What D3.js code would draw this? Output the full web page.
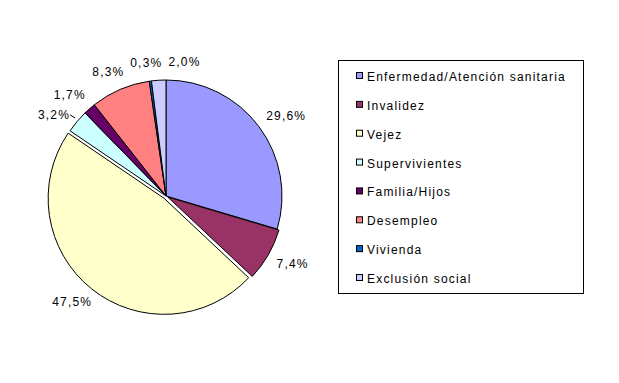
<!DOCTYPE html>
<html>
<head>
<meta charset="utf-8">
<script src="https://cdn.jsdelivr.net/npm/d3@7"></script>
<style>
    body { margin: 0; background: #fff; }
    text { font-family: "Liberation Sans", Arial, sans-serif; font-size: 12px; letter-spacing: 1.2px; fill: #000; }
</style>
</head>
<body>
<div id="chart"></div>
<script>
const categories = [
    'Enfermedad/Atención sanitaria',
    'Invalidez',
    'Vejez',
    'Supervivientes',
    'Familia/Hijos',
    'Desempleo',
    'Vivienda',
    'Exclusión social'
]
const shares = [29.6, 7.4, 47.5, 3.2, 1.7, 8.3, 0.3, 2.0]
const shareLabels = ['29,6%', '7,4%', '47,5%', '3,2%', '1,7%', '8,3%', '0,3%', '2,0%']
const colors = ['#9999FF', '#993366', '#FFFFCC', '#CCFFFF', '#660066', '#FF8080', '#0066CC', '#CCCCFF']

// slices pulled out a little from the centre (px)
const EXPLODE = { 'Invalidez': 2, 'Vejez': 3 }

const WIDTH = 619
const HEIGHT = 383
const CX = 166
const CY = 196
const RADIUS = 116
const LABEL_GAP = 14
const LABEL_H = 10

const data = categories.map((name, i) => ({
    name, value: shares[i], label: shareLabels[i], color: colors[i]
}))

const svg = d3.select('#chart')
    .append('svg')
    .attr('width', WIDTH)
    .attr('height', HEIGHT)

const pie = d3.pie().sort(null).value(d => d.value)
const arc = d3.arc().innerRadius(0).outerRadius(RADIUS)
const arcs = pie(data)

// unit vector from the centre towards the middle of a slice
function direction(a) {
    const mid = (a.startAngle + a.endAngle) / 2
    return [Math.sin(mid), -Math.cos(mid)]
}

const pieGroup = svg.append('g').attr('transform', `translate(${CX},${CY})`)

pieGroup.selectAll('.slice')
    .data(arcs)
    .enter()
    .append('path')
    .attr('class', 'slice')
    .attr('d', arc)
    .attr('transform', d => {
        const off = EXPLODE[d.data.name] || 0
        const [ux, uy] = direction(d)
        return `translate(${ux * off},${uy * off})`
    })
    .attr('fill', d => d.data.color)
    .attr('stroke', '#000')
    .attr('stroke-width', 1)
    .attr('stroke-linejoin', 'round')

// Labels: place outside the rim, then push overlapping ones apart
const labelGroup = svg.append('g')
const labels = arcs.map(a => {
    const t = labelGroup.append('text').text(a.data.label)
    const bb = t.node().getBBox()
    const [ux, uy] = direction(a)
    const r = RADIUS + LABEL_GAP
    const x = CX + ux * r + ux * bb.width / 2
    const y = CY + uy * r + uy * LABEL_H / 2
    return { node: t, w: bb.width, a, x, y, x0: x, y0: y }
})

for (let i = 1; i < labels.length; i++) {
    const p = labels[i - 1]
    const q = labels[i]
    const dx = Math.abs(q.x - p.x)
    const dy = Math.abs(q.y - p.y)
    if (dx < (p.w + q.w) / 2 + 4 && dy < LABEL_H + 6) {
        if (dy < 6) {
            // side by side: move the later one along
            q.x = p.x + (p.w + q.w) / 2 + 6
        } else {
            // stacked: move the earlier one away
            p.y = p.y > q.y ? q.y + 20 : q.y - 20
        }
    }
}

labels.forEach(l => {
    l.node
        .attr('x', l.x)
        .attr('y', l.y + 4.5)
        .attr('text-anchor', 'middle')

    // leader line for labels moved off their slice vertically
    if (Math.abs(l.y - l.y0) > 2) {
        const [ux] = direction(l.a)
        const side = ux < 0 ? 1 : -1
        const x1 = l.x + side * (l.w / 2)
        labelGroup.append('line')
            .attr('x1', x1)
            .attr('y1', l.y + 0.5)
            .attr('x2', x1 + side * 5)
            .attr('y2', l.y + 3.5)
            .attr('stroke', '#000')
            .attr('stroke-width', 1)
    }
})

// Legend
const legend = svg.append('g').attr('transform', 'translate(338,60)')

legend.append('rect')
    .attr('x', 0.5)
    .attr('y', 0.5)
    .attr('width', 245)
    .attr('height', 233)
    .attr('fill', '#fff')
    .attr('stroke', '#000')

const rowY = d3.scalePoint()
    .domain(categories)
    .range([16, 218])

const item = legend.selectAll('.legend-item')
    .data(data)
    .enter()
    .append('g')
    .attr('class', 'legend-item')
    .attr('transform', d => `translate(0,${rowY(d.name)})`)

item.append('rect')
    .attr('x', 18.5)
    .attr('y', -3.5)
    .attr('width', 6)
    .attr('height', 6)
    .attr('fill', d => d.color)
    .attr('stroke', '#000')

item.append('text')
    .attr('x', 29)
    .attr('y', 5)
    .text(d => d.name)
</script>
</body>
</html>
